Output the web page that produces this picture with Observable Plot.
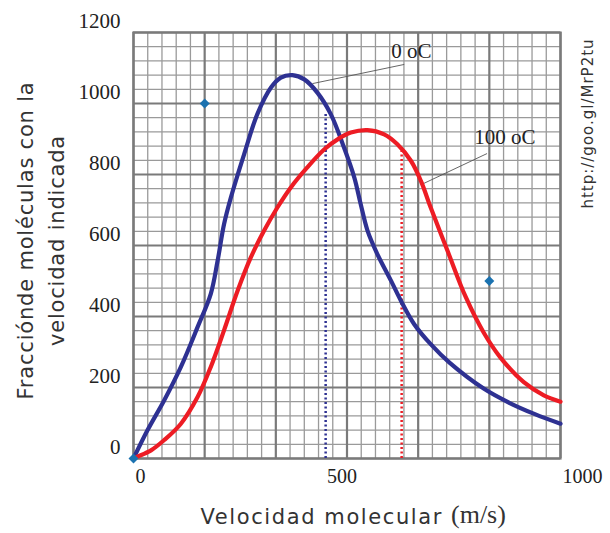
<!DOCTYPE html>
<html>
<head>
<meta charset="utf-8">
<script src="https://cdn.jsdelivr.net/npm/d3@7"></script>
<script src="https://cdn.jsdelivr.net/npm/@observablehq/plot@0.6"></script>
<style>
  html, body { margin: 0; padding: 0; background: #fff; }
</style>
</head>
<body>
<div id="chart"></div>
<script>
// ---- data ----
const speed0C = [0, 33, 72, 111, 150, 181, 197, 212, 228, 259, 290, 322, 345, 372, 400, 431, 462, 493, 517, 532, 548, 571, 603, 626, 657, 696, 740, 820, 880, 940, 1000];
const frac0C  = [0, 80, 164, 258, 370, 464, 557, 660, 735, 857, 970, 1045, 1073, 1080, 1068, 1030, 970, 876, 792, 717, 642, 576, 501, 445, 379, 322, 270, 197, 157, 125, 98];

const speed100C = [0, 9, 41, 72, 111, 150, 181, 212, 244, 275, 306, 337, 368, 407, 447, 478, 509, 548, 587, 618, 650, 673, 696, 737, 778, 820, 859, 914, 961, 1000];
const frac100C  = [0, 5, 23, 52, 98, 173, 258, 361, 473, 567, 642, 707, 763, 820, 871, 899, 918, 925, 913, 885, 838, 782, 707, 580, 455, 355, 285, 215, 178, 160];

const avgSpeed = [450, 628];
const avgFrac  = [974, 866];

const markerX = [0, 166.7, 833.3];
const markerY = [0, 1000, 500];

const yTickValues = [0, 200, 400, 600, 800, 1000, 1200];
const xTickValues = [0, 500, 1000];

const label0 = {text: "0 oC", x: 651, y: 1146, lx1: 419, ly1: 1056, lx2: 634, ly2: 1110};
const label100 = {text: "100 oC", x: 870, y: 906, lx1: 680, ly1: 775, lx2: 828, ly2: 859};

const xTitle1 = "Velocidad molecular";
const xTitle2 = "(m/s)";
const yTitle = "Fracciónde moléculas con la\nvelocidad indicada";
const sourceText = "http://goo.gl/MrP2tu";

// ---- build ----
const blue = "#2e3192";
const red = "#ed1c24";
const serif = "Liberation Serif, serif";
const sans = "DejaVu Sans, sans-serif";

const curve0 = speed0C.map((s, i) => ({x: s, y: frac0C[i]}));
const curve100 = speed100C.map((s, i) => ({x: s, y: frac100C[i]}));
const avg = avgSpeed.map((s, i) => ({x: s, y: avgFrac[i], c: i === 0 ? blue : red}));
const markers = markerX.map((x, i) => ({x, y: markerY[i]}));

const gx = d3.range(31).map(i => i * 1000 / 30);
const gy = d3.range(31).map(i => i * 40);
const gxMinor = gx.filter((d, i) => i % 5 !== 0);
const gxMajor = gx.filter((d, i) => i % 5 === 0);
const gyMinor = gy.filter((d, i) => i % 5 !== 0);
const gyMajor = gy.filter((d, i) => i % 5 === 0);

const leaders = [label0, label100];

const chart = Plot.plot({
  width: 610,
  height: 533,
  marginLeft: 133,
  marginRight: 50,
  marginTop: 32,
  marginBottom: 75,
  style: {background: "#fff", overflow: "visible"},
  x: {domain: [0, 1000], axis: null},
  y: {domain: [0, 1200], axis: null},
  marks: [
    Plot.ruleX(gxMinor, {stroke: "#9a9a9a", strokeWidth: 1.3}),
    Plot.ruleY(gyMinor, {stroke: "#9a9a9a", strokeWidth: 1.3}),
    Plot.ruleX(gxMajor, {stroke: "#7a7a7a", strokeWidth: 2.2}),
    Plot.ruleY(gyMajor, {stroke: "#7a7a7a", strokeWidth: 2.2}),
    Plot.frame({stroke: "#7a7a7a", strokeWidth: 2.2}),
    Plot.ruleX(avg, {x: "x", y1: 0, y2: "y", stroke: "c", strokeWidth: 2.5, strokeDasharray: "2,2.5"}),
    Plot.link(leaders, {x1: "lx1", y1: "ly1", x2: "lx2", y2: "ly2", stroke: "#555", strokeWidth: 0.9}),
    Plot.line(curve0, {x: "x", y: "y", stroke: blue, strokeWidth: 4.2, curve: "catmull-rom"}),
    Plot.line(curve100, {x: "x", y: "y", stroke: red, strokeWidth: 4.2, curve: "catmull-rom"}),
    Plot.dot(markers, {x: "x", y: "y", symbol: "diamond2", r: 4.5, fill: "#1b72b0", stroke: null}),
    Plot.text(leaders, {x: "x", y: "y", text: "text", fontFamily: serif, fontSize: 21, fill: "#222"}),
    // y tick labels
    Plot.text(yTickValues, {y: d => d, text: d => String(d), frameAnchor: "left", textAnchor: "end", dx: -13, dy: -11, fontFamily: serif, fontSize: 21, fill: "#222"}),
    // x tick labels
    Plot.text(xTickValues.filter(d => d !== 500), {x: d => d, text: d => String(d), frameAnchor: "bottom", textAnchor: "start", dx: 2, dy: 24, fontFamily: serif, fontSize: 20, fill: "#222"}),
    Plot.text(xTickValues.filter(d => d === 500), {x: d => d, text: d => String(d), frameAnchor: "bottom", textAnchor: "middle", dx: -5, dy: 24, fontFamily: serif, fontSize: 20, fill: "#222"}),
    // axis titles
    Plot.text([xTitle1], {text: d => d, frameAnchor: "bottom", textAnchor: "end", dx: 96, dy: 65, fontFamily: sans, fontSize: 21, fill: "#333"}),
    Plot.text([xTitle2], {text: d => d, frameAnchor: "bottom", textAnchor: "start", dx: 104, dy: 64, fontFamily: serif, fontSize: 26, fill: "#333"}),
    Plot.text([yTitle], {text: d => d, frameAnchor: "left", textAnchor: "middle", rotate: -90, dx: -95, dy: -5, lineHeight: 1.5, fontFamily: sans, fontSize: 21, fill: "#333"}),
    Plot.text([sourceText], {text: d => d, frameAnchor: "top-right", textAnchor: "middle", rotate: -90, dx: 22, dy: 91, fontFamily: sans, fontSize: 15, fill: "#333"})
  ]
});

// widen the sans-serif titles a little to match the reference face
d3.select(chart).selectAll("text").each(function () {
  const t = this.textContent;
  if (t === xTitle1) d3.select(this).attr("letter-spacing", 1.6);
  else if (t.startsWith("Fracci")) d3.select(this).attr("letter-spacing", 0.8);
  else if (t === sourceText) d3.select(this).attr("letter-spacing", 1);
});

document.getElementById("chart").appendChild(chart);
</script>
</body>
</html>
